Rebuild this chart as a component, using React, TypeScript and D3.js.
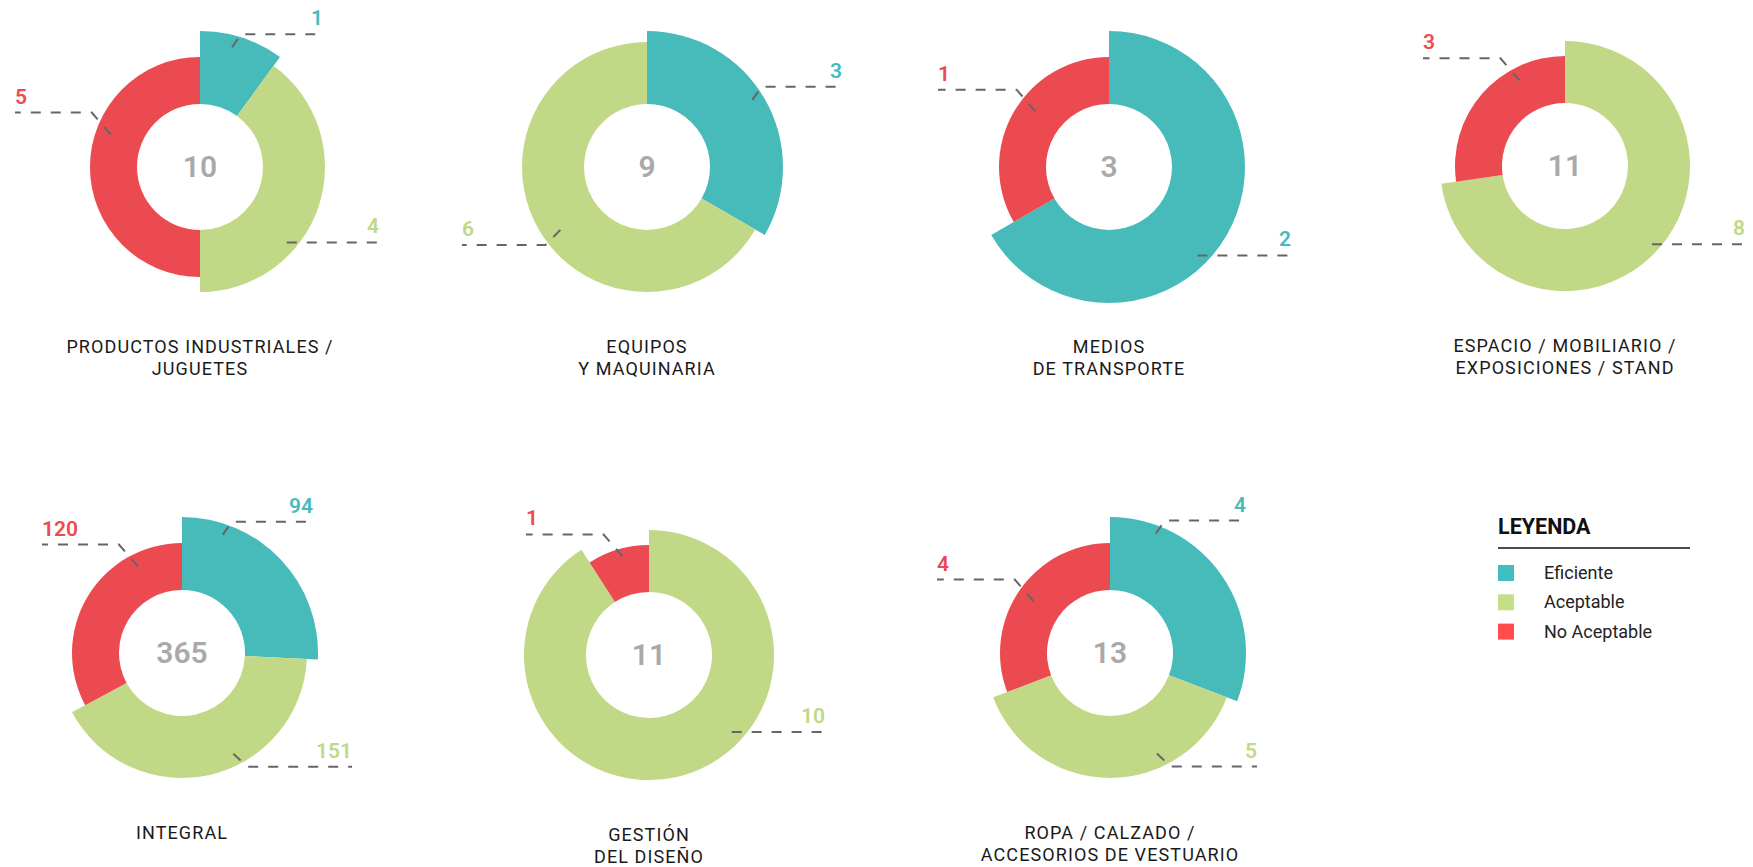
import * as d3 from 'd3';

const WIDTH = 1753;
const HEIGHT = 867;

// data
const SERIES = ['Eficiente', 'Aceptable', 'No Aceptable'];
const CATEGORIES = [
  ['PRODUCTOS INDUSTRIALES /', 'JUGUETES'],
  ['EQUIPOS', 'Y MAQUINARIA'],
  ['MEDIOS', 'DE TRANSPORTE'],
  ['ESPACIO / MOBILIARIO /', 'EXPOSICIONES / STAND'],
  ['INTEGRAL'],
  ['GESTIÓN', 'DEL DISEÑO'],
  ['ROPA / CALZADO /', 'ACCESORIOS DE VESTUARIO'],
];
const EFICIENTE = [1, 3, 2, 0, 94, 0, 4];
const ACEPTABLE = [4, 6, 0, 8, 151, 10, 5];
const NO_ACEPTABLE = [5, 0, 1, 3, 120, 1, 4];

// layout (chart centres) and leader placement: [angle deg, start radius, kind, end x]
const CENTERS = [[200, 167], [647, 167], [1109, 167], [1565, 166], [182, 653], [649, 655], [1110, 653]];
const LEADERS = [
  [[15, 124, 'ur', 123], [131, 115, 'h', 179], [290, 95, 'ul', -185]],
  [[57.5, 125, 'ur', 195], [234, 107, 'll', -185], null],
  [[135, 125, 'h', 182], null, [307, 92, 'ul', -171]],
  [null, [132, 117, 'h', 180], [332, 97, 'ul', -142]],
  [[19, 125, 'ur', 131], [153, 113, 'lr', 170], [333, 97, 'ul', -140]],
  [null, [133, 113, 'h', 176], [345, 102, 'ul', -123]],
  [[21, 128, 'ur', 136], [155, 111, 'lr', 147], [304, 92, 'ul', -173]],
];
const ELBOW = { ur: [9, -13], ul: [-19, -22], lr: [14, 13], ll: [-15, 15], h: [0, 0] };

const COLORS = ['#47BABA', '#C1D886', '#EB4B50'];
const LEGEND_COLORS = ['#40BFBF', '#C4E086', '#FF4C4C'];
const FONT = 'Roboto, "Noto Sans", sans-serif';

const color = d3.scaleOrdinal<string, string>().domain(SERIES).range(COLORS);
const outerR = d3.scaleOrdinal<string, number>().domain(SERIES).range([136, 125, 110]);
const INNER_R = 63;

const pie = d3.pie<number>().sort(null).value((d) => d);

function polar(deg: number, r: number) {
  const a = (deg * Math.PI) / 180;
  return [r * Math.sin(a), -r * Math.cos(a)];
}

function Donut({ i }: { i: number }) {
  const values = [EFICIENTE[i], ACEPTABLE[i], NO_ACEPTABLE[i]];
  const total = d3.sum(values);
  const [cx, cy] = CENTERS[i];
  const arcs = pie(values);

  return (
    <g transform={`translate(${cx},${cy})`}>
      {arcs.map((a, k) =>
        a.value > 0 ? (
          <path
            key={k}
            d={d3.arc<any>().innerRadius(INNER_R).outerRadius(outerR(SERIES[k]))(a) || ''}
            fill={color(SERIES[k])}
          />
        ) : null
      )}
      <text
        y={10}
        textAnchor="middle"
        fontFamily={FONT}
        fontSize={30}
        fontWeight={600}
        fill="#A9A9A9"
      >
        {total}
      </text>

      {LEADERS[i].map((l, k) => {
        if (!l || values[k] === 0) return null;
        const [ang, r, kind, endX] = l as [number, number, string, number];
        const [x0, y0] = polar(ang, r);
        const [dx, dy] = ELBOW[kind];
        const x1 = x0 + dx;
        const y1 = y0 + dy;
        const right = endX > 0;
        return (
          <g key={'l' + k}>
            <path
              d={`M${x0},${y0}L${x1},${y1}L${endX},${y1}`}
              fill="none"
              stroke="#666"
              strokeWidth={2}
              strokeDasharray="10,10"
            />
            <text
              x={endX}
              y={y1 - 9}
              textAnchor={right ? 'end' : 'start'}
              fontFamily={FONT}
              fontSize={21}
              fontWeight={600}
              fill={color(SERIES[k])}
            >
              {values[k]}
            </text>
          </g>
        );
      })}

      {CATEGORIES[i].map((line, j) => (
        <text
          key={'t' + j}
          y={186 + j * 22}
          textAnchor="middle"
          fontFamily={FONT}
          fontSize={18}
          letterSpacing={1.1}
          fill="#1a1a1a"
        >
          {line}
        </text>
      ))}
    </g>
  );
}

function Legend() {
  const x0 = 1498;
  return (
    <g>
      <text x={x0} y={534} fontFamily={FONT} fontSize={21.5} fontWeight={700} fill="#111">
        LEYENDA
      </text>
      <line x1={x0} x2={1690} y1={548} y2={548} stroke="#111" strokeWidth={1.5} />
      {SERIES.map((s, k) => (
        <g key={s} transform={`translate(${x0},${565 + k * 29.3})`}>
          <rect width={16} height={16} fill={LEGEND_COLORS[k]} />
          <text x={46} y={14} fontFamily={FONT} fontSize={18} fill="#222">
            {s}
          </text>
        </g>
      ))}
    </g>
  );
}

export default function App() {
  return (
    <svg
      width={WIDTH}
      height={HEIGHT}
      viewBox={`0 0 ${WIDTH} ${HEIGHT}`}
      style={{ position: 'absolute', left: 0, top: 0, background: '#fff', display: 'block' }}
    >
      {CATEGORIES.map((_, i) => (
        <Donut key={i} i={i} />
      ))}
      <Legend />
    </svg>
  );
}
